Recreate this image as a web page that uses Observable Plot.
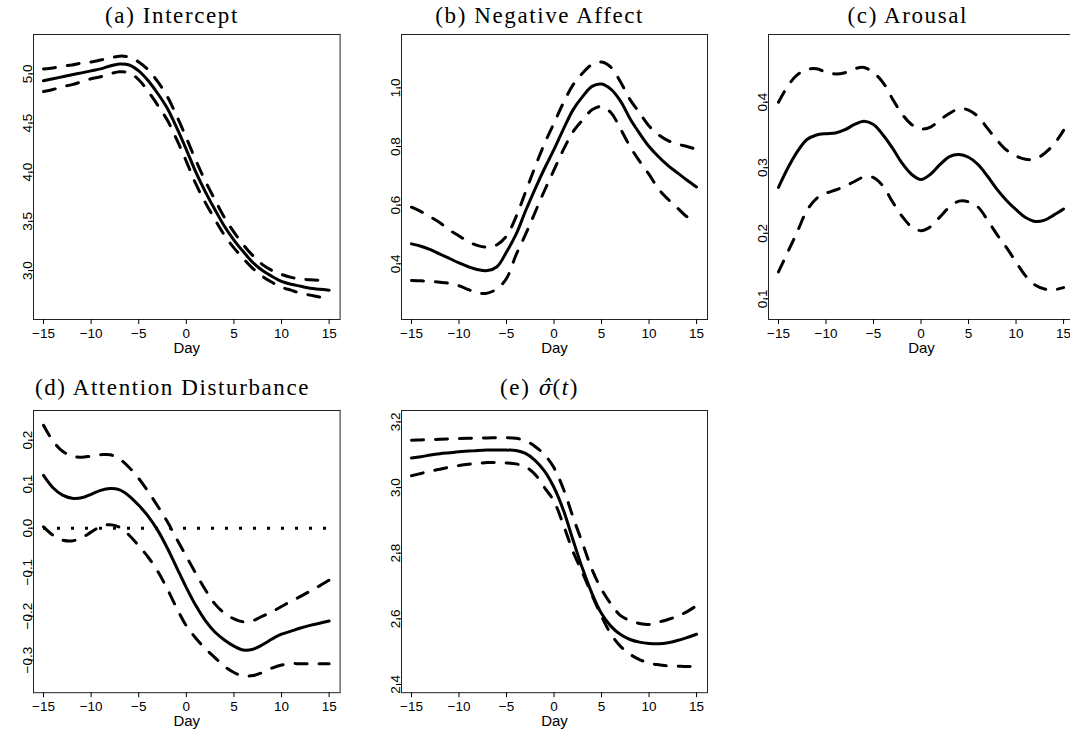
<!DOCTYPE html>
<html>
<head>
<meta charset="utf-8">
<script src="https://cdn.jsdelivr.net/npm/d3@7"></script>
<script src="https://cdn.jsdelivr.net/npm/@observablehq/plot@0.6"></script>
<style>
  html, body { margin: 0; padding: 0; background: #fff; overflow: hidden; }
  #root { position: relative; width: 1070px; height: 736px; overflow: hidden; background: #fff; }
  #root svg.panel { position: absolute; overflow: visible; }
  #titles { position: absolute; left: 0; top: 0; pointer-events: none; }
</style>
</head>
<body>
<div id="root"></div>
<script>
// ---------------- data ----------------
const days = [-15,-14,-13,-12,-11,-10,-9,-8,-7,-6,-5,-4,-3,-2,-1,0,1,2,3,4,5,6,7,8,9,10,11,12,13,14,15];
const xTicks = [-15,-10,-5,0,5,10,15];

// (a) Intercept
const interceptEst   = [4.93,4.95,4.97,4.99,5.01,5.03,5.05,5.08,5.10,5.09,5.03,4.93,4.80,4.65,4.45,4.23,4.00,3.80,3.62,3.45,3.31,3.19,3.08,3.00,2.94,2.89,2.86,2.84,2.82,2.81,2.80];
const interceptUpper = [5.05,5.06,5.08,5.09,5.11,5.12,5.14,5.16,5.18,5.17,5.12,5.04,4.92,4.77,4.57,4.35,4.12,3.91,3.72,3.54,3.39,3.26,3.15,3.06,3.00,2.96,2.93,2.915,2.905,2.90,2.90];
const interceptLower = [4.82,4.84,4.87,4.89,4.92,4.95,4.97,5.00,5.02,5.01,4.94,4.82,4.68,4.53,4.33,4.11,3.88,3.69,3.52,3.36,3.23,3.12,3.02,2.94,2.88,2.83,2.80,2.77,2.75,2.73,2.72];
const interceptTicks = [3.0,3.5,4.0,4.5,5.0];

// (b) Negative Affect
const negAffEst   = [0.468,0.46,0.448,0.433,0.418,0.403,0.39,0.38,0.377,0.39,0.44,0.50,0.58,0.655,0.725,0.79,0.86,0.925,0.97,1.005,1.013,0.995,0.955,0.895,0.845,0.80,0.765,0.735,0.71,0.685,0.662];
const negAffUpper = [0.593,0.578,0.56,0.54,0.515,0.495,0.475,0.462,0.457,0.465,0.495,0.56,0.645,0.73,0.81,0.88,0.95,1.01,1.05,1.08,1.088,1.07,1.02,0.96,0.915,0.87,0.84,0.82,0.808,0.80,0.79];
const negAffLower = [0.343,0.342,0.34,0.337,0.333,0.325,0.312,0.30,0.30,0.315,0.35,0.43,0.50,0.575,0.65,0.72,0.79,0.85,0.89,0.925,0.936,0.915,0.86,0.80,0.75,0.705,0.655,0.62,0.59,0.56,0.545];
const negAffTicks = [0.4,0.6,0.8,1.0];

// (c) Arousal
const arousalEst   = [0.270,0.30,0.325,0.343,0.350,0.352,0.353,0.358,0.366,0.371,0.366,0.35,0.33,0.307,0.29,0.282,0.29,0.305,0.317,0.32,0.316,0.305,0.287,0.267,0.25,0.236,0.224,0.218,0.22,0.228,0.237];
const arousalUpper = [0.40,0.425,0.442,0.45,0.451,0.446,0.443,0.445,0.451,0.453,0.445,0.43,0.405,0.382,0.366,0.359,0.362,0.373,0.383,0.39,0.388,0.378,0.36,0.342,0.327,0.318,0.313,0.313,0.322,0.336,0.357];
const arousalLower = [0.141,0.172,0.203,0.235,0.253,0.261,0.266,0.272,0.279,0.286,0.285,0.272,0.248,0.226,0.21,0.204,0.21,0.225,0.24,0.249,0.248,0.24,0.22,0.198,0.178,0.156,0.135,0.121,0.115,0.114,0.117];
const arousalTicks = [0.1,0.2,0.3,0.4];

// (d) Attention Disturbance
const attnEst   = [0.120,0.092,0.075,0.068,0.069,0.077,0.086,0.09,0.087,0.073,0.052,0.027,-0.005,-0.045,-0.09,-0.135,-0.176,-0.21,-0.236,-0.254,-0.268,-0.277,-0.275,-0.265,-0.252,-0.241,-0.234,-0.227,-0.221,-0.216,-0.211];
const attnUpper = [0.234,0.198,0.175,0.164,0.161,0.164,0.167,0.167,0.157,0.138,0.113,0.083,0.05,0.015,-0.025,-0.064,-0.103,-0.14,-0.172,-0.193,-0.206,-0.213,-0.21,-0.2,-0.19,-0.178,-0.166,-0.155,-0.143,-0.131,-0.118];
const attnLower = [0.003,-0.016,-0.027,-0.029,-0.022,-0.009,0.004,0.008,0.002,-0.016,-0.04,-0.066,-0.098,-0.138,-0.182,-0.222,-0.25,-0.274,-0.294,-0.314,-0.328,-0.336,-0.335,-0.328,-0.318,-0.311,-0.308,-0.308,-0.308,-0.308,-0.308];
const attnTicks = [-0.3,-0.2,-0.1,0.0,0.1,0.2];
const attnReference = [{y: 0, x1: -15, x2: 15}];

// (e) sigma-hat(t)
const sigmaEst   = [3.090,3.094,3.099,3.103,3.106,3.109,3.111,3.113,3.114,3.114,3.114,3.113,3.104,3.083,3.05,3.0,2.93,2.84,2.753,2.677,2.616,2.577,2.552,2.537,2.529,2.525,2.524,2.527,2.534,2.543,2.553];
const sigmaUpper = [3.144,3.145,3.146,3.147,3.148,3.149,3.150,3.151,3.151,3.152,3.152,3.15,3.143,3.125,3.1,3.06,2.995,2.91,2.83,2.75,2.69,2.645,2.61,2.595,2.586,2.583,2.59,2.598,2.608,2.622,2.64];
const sigmaLower = [3.036,3.043,3.05,3.056,3.062,3.067,3.071,3.074,3.076,3.076,3.075,3.072,3.063,3.04,3.0,2.958,2.885,2.805,2.74,2.672,2.608,2.553,2.516,2.492,2.476,2.465,2.46,2.457,2.456,2.455,2.455];
const sigmaTicks = [2.4,2.6,2.8,3.0,3.2];

// ---------------- layout ----------------
const ML = 32, MR = 10, MT = 5, MB = 42;
const xDomain = [-16.05, 16.15];
const fmtX = d => (d < 0 ? "\u2212" : "") + Math.abs(d);
const fmtY = d => (d < 0 ? "\u2212" : "") + Math.abs(d).toFixed(1);
const SANS = "'Liberation Sans', Arial, Helvetica, sans-serif";

const panels = [
  {est: interceptEst, upper: interceptUpper, lower: interceptLower, ticks: interceptTicks, yDomain: [2.502, 5.40],    frame: {l: 32.7,  r: 339.3,  t: 34,    b: 319}},
  {est: negAffEst,    upper: negAffUpper,    lower: negAffLower,    ticks: negAffTicks,    yDomain: [0.210, 1.182],   frame: {l: 400.7, r: 706.7,  t: 34,    b: 319}},
  {est: arousalEst,   upper: arousalUpper,   lower: arousalLower,   ticks: arousalTicks,   yDomain: [0.0684, 0.5033], frame: {l: 768.3, r: 1074.3, t: 34,    b: 319}},
  {est: attnEst,      upper: attnUpper,      lower: attnLower,      ticks: attnTicks,      yDomain: [-0.3739, 0.2675],frame: {l: 32.7,  r: 339.3,  t: 410.3, b: 692.5}, reference: attnReference},
  {est: sigmaEst,     upper: sigmaUpper,     lower: sigmaLower,     ticks: sigmaTicks,     yDomain: [2.375, 3.2347],  frame: {l: 400.7, r: 706.7,  t: 410.3, b: 692.5}}
];

const root = document.getElementById("root");

for (const p of panels) {
  const rows = days.map((d, i) => ({day: d, est: p.est[i], upper: p.upper[i], lower: p.lower[i]}));
  const fw = p.frame.r - p.frame.l, fh = p.frame.b - p.frame.t;
  const marks = [];
  if (p.reference) {
    marks.push(Plot.ruleY(p.reference, {y: "y", x1: "x1", x2: "x2", stroke: "black", strokeWidth: 3, strokeDasharray: "3,11"}));
  }
  marks.push(
    Plot.line(rows, {x: "day", y: "upper", stroke: "black", strokeWidth: 3, strokeDasharray: "12,12", curve: "catmull-rom"}),
    Plot.line(rows, {x: "day", y: "lower", stroke: "black", strokeWidth: 3, strokeDasharray: "12,12", curve: "catmull-rom"}),
    Plot.line(rows, {x: "day", y: "est", stroke: "black", strokeWidth: 3, curve: "catmull-rom"}),
    Plot.frame({stroke: "#222", strokeWidth: 1}),
    Plot.axisX({ticks: xTicks, tickSize: 5, tickFormat: () => "", label: null}),
    Plot.axisY({ticks: p.ticks, tickSize: 5, tickFormat: () => "", label: null}),
    Plot.text(xTicks, {x: d => d, text: fmtX, frameAnchor: "bottom", dy: 18.3, lineAnchor: "bottom", fontSize: 13.5, fontFamily: SANS, fill: "black"}),
    Plot.text(p.ticks, {y: d => d, text: fmtY, frameAnchor: "left", dx: -2, rotate: -90, textAnchor: "middle", lineAnchor: "bottom", fontSize: 13.5, fontFamily: SANS, fill: "black"}),
    Plot.text(["Day"], {frameAnchor: "bottom", dy: 33.7, lineAnchor: "bottom", fontSize: 15, fontFamily: SANS, fill: "black"})
  );
  const svg = Plot.plot({
    width: fw + ML + MR,
    height: fh + MT + MB,
    marginLeft: ML, marginRight: MR, marginTop: MT, marginBottom: MB,
    x: {domain: xDomain},
    y: {domain: p.yDomain},
    style: {fontFamily: SANS, fontSize: "13.5px", color: "black", background: "transparent", overflow: "visible"},
    marks
  });
  svg.classList.add("panel");
  svg.style.left = (p.frame.l - ML) + "px";
  svg.style.top = (p.frame.t - MT) + "px";
  root.appendChild(svg);
}

// ---------------- titles ----------------
const titles = [
  {x: 172,   y: 22.7, parts: [{t: "(a) Intercept"}]},
  {x: 539.7, y: 22.7, parts: [{t: "(b) Negative Affect"}]},
  {x: 907.8, y: 22.7, parts: [{t: "(c) Arousal"}]},
  {x: 172.5, y: 395,  parts: [{t: "(d) Attention Disturbance"}]},
  {x: 539.5, y: 395,  parts: [{t: "(e) "}, {t: "\u03C3\u0302", i: true, accent: true}, {t: "("}, {t: "t", i: true}, {t: ")"}]}
];
const tsvg = d3.create("svg").attr("id", "titles").attr("width", 1070).attr("height", 736);
for (const t of titles) {
  const txt = tsvg.append("text")
    .attr("x", t.x).attr("y", t.y)
    .attr("text-anchor", "middle")
    .attr("font-family", "'Liberation Serif', 'Times New Roman', serif")
    .attr("font-size", 23)
    .style("letter-spacing", "1.6px")
    .attr("fill", "black");
  for (const part of t.parts) {
    const ts = txt.append("tspan").text(part.t);
    if (part.i) ts.attr("font-style", "italic");
    if (part.accent) {
      ts.attr("font-family", "'DejaVu Serif', serif").attr("font-size", 20).style("letter-spacing", "0px").attr("dx", 1);
    }
  }
}
root.appendChild(tsvg.node());
</script>
</body>
</html>
